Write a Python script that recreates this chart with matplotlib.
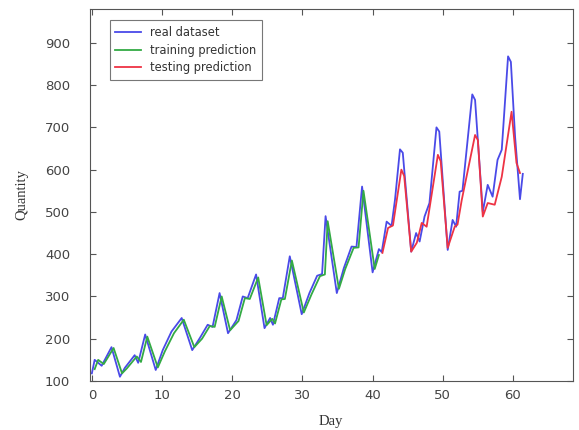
import matplotlib.pyplot as plt

# Real dataset (blue)
real_x = [0, 0.4, 1.4, 2.8, 4.0, 4.7, 6.1, 6.6, 7.6, 9.1, 10.1, 11.35, 12.8, 14.3,
          15.4, 16.5, 17.2, 18.2, 19.4, 20.6, 21.5, 22.2, 23.4, 24.6, 25.4, 25.8,
          26.7, 27.2, 28.2, 29.9, 31.0, 32.1, 32.8, 33.3, 34.9, 35.9, 37.0, 37.7,
          38.5, 40.0, 40.9, 41.3, 42.0, 42.7, 43.2, 43.9, 44.3, 45.5, 46.2, 46.7,
          47.4, 48.1, 49.1, 49.5, 50.7, 51.4, 51.9, 52.4, 52.8, 54.2, 54.6, 55.7,
          56.4, 57.1, 57.8, 58.4, 59.3, 59.7, 60.3, 61.0, 61.4]
real_y = [118, 150, 136, 180, 110, 131, 161, 143, 210, 126, 173, 217, 249, 173,
          202, 233, 228, 308, 213, 244, 300, 296, 352, 225, 249, 233,
          296, 296, 395, 258, 308, 349, 353, 490, 308, 367, 418, 417,
          560, 357, 412, 405, 477, 467, 530, 648, 640, 406, 450, 430,
          489, 521, 700, 690, 410, 481, 465, 548, 550, 778, 765, 500,
          564, 536, 623, 647, 868, 855, 678, 530, 590]

# Training prediction (green)
train_x = [0.4, 0.9, 1.7, 3.1, 4.3, 5.0, 6.4, 7.0, 7.9, 9.4, 10.4, 11.7, 13.1, 14.6,
           15.7, 16.8, 17.5, 18.5, 19.7, 20.9, 21.8, 22.5, 23.7, 24.9, 25.7, 26.1,
           27.0, 27.5, 28.5, 30.2, 31.3, 32.5, 33.2, 33.6, 35.2, 36.1, 37.3, 38.0,
           38.7, 40.3, 40.9]
train_y = [128, 150, 140, 178, 118, 130, 158, 145, 205, 132, 170, 213, 245, 180,
           200, 230, 228, 300, 220, 242, 296, 294, 345, 232, 247, 236,
           293, 294, 385, 262, 305, 348, 352, 478, 318, 365, 415, 416,
           550, 365, 398]

# Testing prediction (red)
test_x = [41.4, 42.2, 42.9, 44.1, 44.5, 45.5, 46.3, 47.0, 47.7, 49.3, 49.7, 50.7,
          51.7, 52.1, 52.7, 54.6, 55.0, 55.7, 56.4, 57.4, 58.4, 59.8, 60.5, 61.0]
test_y = [403, 462, 468, 600, 585, 406, 427, 474, 465, 635, 620, 415,
          465, 470, 528, 682, 670, 489, 521, 517, 583, 737, 616, 592]

fig = plt.figure(figsize=(5.79, 4.30), dpi=100)
ax = fig.add_axes([0.155, 0.114, 0.834, 0.865])

ax.plot(real_x, real_y, color='#4a4ae8', lw=1.3, label='real dataset')
ax.plot(train_x, train_y, color='#33aa44', lw=1.3, label='training prediction')
ax.plot(test_x, test_y, color='#ee3344', lw=1.3, label='testing prediction')

ax.set_xlim(-0.3, 68.5)
ax.set_ylim(100, 980)
ax.set_xticks(range(0, 70, 10))
ax.set_yticks(range(100, 1000, 100))
ax.tick_params(direction='in', top=True, right=True, length=4,
               labelsize=9.5, labelcolor='#444444', color='#555555')
ax.tick_params(axis='y', pad=14)
ax.tick_params(axis='x', pad=6)
for sp in ax.spines.values():
    sp.set_color('#555555')

ax.set_xlabel('Day', family='Liberation Serif', fontsize=10.5, color='#333333',
              labelpad=9)
ax.set_ylabel('Quantity', family='Liberation Serif', fontsize=10.5, color='#333333',
              labelpad=12)

leg = ax.legend(loc='upper left', fontsize=8.3, fancybox=False,
                bbox_to_anchor=(0.041, 0.97), borderaxespad=0,
                handlelength=2.2, borderpad=0.5, labelspacing=0.4)
leg.get_frame().set_edgecolor('#555555')
leg.get_frame().set_linewidth(0.8)
for t in leg.get_texts():
    t.set_color('#333333')

fig.savefig('out.png', dpi=100)
